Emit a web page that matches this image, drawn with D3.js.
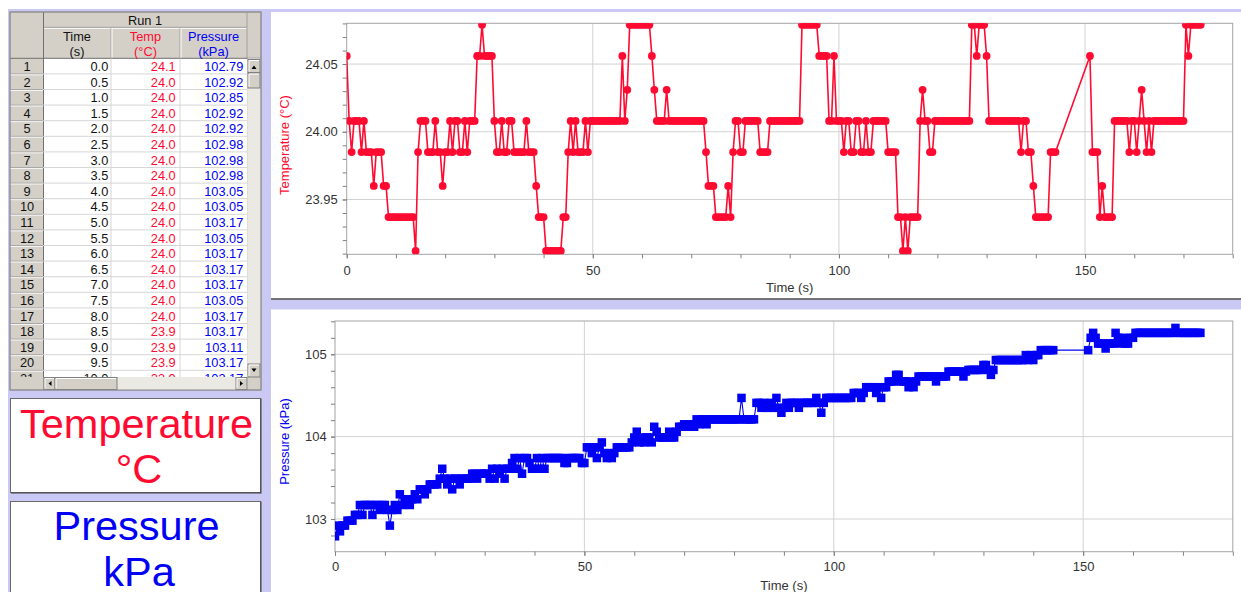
<!DOCTYPE html>
<html><head><meta charset="utf-8">
<script src="https://cdn.jsdelivr.net/npm/d3@7"></script>
<style>
html,body{margin:0;padding:0;background:#fff;overflow:hidden}
svg{display:block;font-family:"Liberation Sans",Arial,sans-serif}
</style></head><body>
<svg id="c" width="1241" height="592"></svg>
<script>
// ---------------- DATA ----------------
const time = [
0,0.5,1,1.5,2,2.5,3,3.5,4,4.5,5,5.5,6,6.5,7,7.5,8,8.5,9,9.5,
10,10.5,11,11.5,12,12.5,13,13.5,14,14.5,15,15.5,16,16.5,17,17.5,18,18.5,19,19.5,
20,20.5,21,21.5,22,22.5,23,23.5,24,24.5,25,25.5,26,26.5,27,27.5,28,28.5,29,29.5,
30,30.5,31,31.5,32,32.5,33,33.5,34,34.5,35,35.5,36,36.5,37,37.5,38,38.5,39,39.5,
40,40.5,41,41.5,42,42.5,43,43.5,44,44.5,45,45.5,46,46.5,47,47.5,48,48.5,49,49.5,
50,50.5,51,51.5,52,52.5,53,53.5,54,54.5,55,55.5,56,56.5,57,57.5,58,58.5,59,59.5,
60,60.5,61,61.5,62,62.5,63,63.5,64,64.5,65,65.5,66,66.5,67,67.5,68,68.5,69,69.5,
70,70.5,71,71.5,72,72.5,73,73.5,74,74.5,75,75.5,76,76.5,77,77.5,78,78.5,79,79.5,
80,80.5,81,81.5,82,82.5,83,83.5,84,84.5,85,85.5,86,86.5,87,87.5,88,88.5,89,89.5,
90,90.5,91,91.5,92,92.5,93,93.5,94,94.5,95,95.5,96,96.5,97,97.5,98,98.5,99,99.5,
100,100.5,101,101.5,102,102.5,103,103.5,104,104.5,105,105.5,106,106.5,107,107.5,108,108.5,109,109.5,
110,110.5,111,111.5,112,112.5,113,113.5,114,114.5,115,115.5,116,116.5,117,117.5,118,118.5,119,119.5,
120,120.5,121,121.5,122,122.5,123,123.5,124,124.5,125,125.5,126,126.5,127,127.5,128,128.5,129,129.5,
130,130.5,131,131.5,132,132.5,133,133.5,134,134.5,135,135.5,136,136.5,137,137.5,138,138.5,139,139.5,
140,140.5,141,141.5,142,142.5,143,143.5,144,
151,151.5,152,152.5,153,153.5,154,154.5,155,155.5,156,156.5,157,157.5,158,158.5,159,159.5,
160,160.5,161,161.5,162,162.5,163,163.5,164,164.5,165,165.5,166,166.5,167,167.5,168,168.5,169,169.5,
170,170.5,171,171.5,172,172.5,173,173.5
];
const temperature = [
24.056,24.008,23.985,24.008,24.008,24.008,23.985,24.008,23.985,23.985,23.985,23.960,23.985,23.985,23.985,23.960,23.960,23.937,23.937,23.937,
23.937,23.937,23.937,23.937,23.937,23.937,23.937,23.937,23.912,23.985,24.008,24.008,24.008,23.985,23.985,23.985,24.008,23.985,23.985,23.960,
23.985,23.985,24.008,23.985,24.008,24.008,23.985,23.985,24.008,23.985,24.008,24.008,24.008,24.056,24.056,24.079,24.056,24.056,24.056,24.056,
24.008,23.985,23.985,24.008,23.985,23.985,24.008,24.008,23.985,23.985,23.985,23.985,23.985,24.008,23.985,23.985,23.985,23.960,23.937,23.937,
23.937,23.912,23.912,23.912,23.912,23.912,23.912,23.912,23.937,23.937,23.985,24.008,23.985,24.008,23.985,23.985,23.985,24.008,23.985,24.008,
24.008,24.008,24.008,24.008,24.008,24.008,24.008,24.008,24.008,24.008,24.008,24.008,24.056,24.008,24.031,24.079,24.079,24.079,24.079,24.079,
24.079,24.079,24.079,24.079,24.056,24.031,24.008,24.008,24.008,24.008,24.031,24.008,24.008,24.008,24.008,24.008,24.008,24.008,24.008,24.008,
24.008,24.008,24.008,24.008,24.008,24.008,23.985,23.960,23.960,23.960,23.937,23.937,23.937,23.937,23.937,23.960,23.937,23.985,24.008,24.008,
23.985,23.985,24.008,24.008,24.008,24.008,24.008,24.008,23.985,23.985,23.985,23.985,24.008,24.008,24.008,24.008,24.008,24.008,24.008,24.008,
24.008,24.008,24.008,24.008,24.008,24.079,24.079,24.079,24.079,24.079,24.079,24.079,24.056,24.056,24.056,24.056,24.008,24.008,24.056,24.008,
24.008,24.008,23.985,24.008,24.008,23.985,23.985,24.008,24.008,23.985,23.985,24.008,23.985,23.985,24.008,24.008,24.008,24.008,24.008,24.008,
23.985,23.985,23.985,23.985,23.937,23.937,23.912,23.937,23.912,23.937,23.937,23.937,23.937,24.008,24.031,24.008,24.008,23.985,23.985,24.008,
24.008,24.008,24.008,24.008,24.008,24.008,24.008,24.008,24.008,24.008,24.008,24.008,24.008,24.008,24.079,24.079,24.056,24.079,24.079,24.079,
24.056,24.008,24.008,24.008,24.008,24.008,24.008,24.008,24.008,24.008,24.008,24.008,24.008,24.008,23.985,24.008,24.008,23.985,23.985,23.960,
23.937,23.937,23.937,23.937,23.937,23.937,23.985,23.985,23.985,
24.056,23.985,23.985,23.985,23.937,23.960,23.937,23.937,23.937,23.937,24.008,24.008,24.008,24.008,24.008,24.008,23.985,24.008,
24.008,23.985,24.008,24.031,24.008,23.985,24.008,23.985,24.008,24.008,24.008,24.008,24.008,24.008,24.008,24.008,24.008,24.008,24.008,24.008,
24.008,24.079,24.056,24.079,24.079,24.079,24.079,24.079
];
const pressure = [
102.79,102.92,102.85,102.92,102.92,102.98,102.98,102.98,103.05,103.05,103.17,103.05,103.17,103.17,103.17,103.05,103.17,103.17,103.11,103.17,
103.17,103.11,102.92,103.11,103.17,103.11,103.30,103.17,103.24,103.24,103.17,103.24,103.30,103.24,103.36,103.36,103.30,103.36,103.42,103.42,
103.42,103.42,103.49,103.61,103.49,103.42,103.49,103.36,103.49,103.49,103.42,103.49,103.49,103.49,103.49,103.55,103.55,103.49,103.55,103.55,
103.55,103.55,103.49,103.61,103.49,103.61,103.55,103.61,103.49,103.61,103.61,103.68,103.74,103.61,103.74,103.55,103.74,103.74,103.68,103.61,
103.61,103.74,103.61,103.74,103.61,103.74,103.74,103.74,103.74,103.74,103.74,103.74,103.68,103.68,103.74,103.74,103.74,103.74,103.74,103.68,
103.68,103.87,103.87,103.80,103.87,103.74,103.87,103.93,103.80,103.74,103.80,103.74,103.80,103.87,103.87,103.87,103.87,103.87,103.87,103.93,
103.99,104.06,103.93,103.99,103.93,103.99,103.99,103.93,104.12,104.06,103.99,103.99,103.99,103.99,104.06,103.99,103.99,104.06,104.12,104.12,
104.15,104.12,104.15,104.15,104.12,104.21,104.15,104.21,104.21,104.15,104.21,104.21,104.21,104.21,104.21,104.21,104.21,104.21,104.21,104.21,
104.21,104.21,104.21,104.47,104.21,104.21,104.21,104.21,104.21,104.41,104.41,104.35,104.41,104.35,104.35,104.41,104.35,104.47,104.35,104.29,
104.35,104.41,104.35,104.41,104.41,104.41,104.35,104.41,104.41,104.41,104.41,104.41,104.41,104.47,104.41,104.29,104.41,104.47,104.47,104.47,
104.47,104.47,104.47,104.47,104.47,104.47,104.47,104.47,104.53,104.53,104.53,104.47,104.53,104.60,104.60,104.60,104.60,104.53,104.60,104.47,
104.60,104.60,104.67,104.67,104.67,104.75,104.75,104.67,104.67,104.67,104.60,104.67,104.60,104.67,104.73,104.73,104.73,104.73,104.73,104.73,
104.73,104.67,104.73,104.73,104.73,104.73,104.79,104.79,104.79,104.79,104.79,104.79,104.73,104.79,104.81,104.81,104.81,104.81,104.81,104.81,
104.87,104.87,104.81,104.75,104.81,104.93,104.93,104.93,104.93,104.93,104.93,104.93,104.93,104.93,104.93,104.93,104.93,104.99,104.93,104.99,
104.93,104.99,104.99,105.05,105.05,105.05,105.05,105.05,105.05,
105.05,105.20,105.26,105.20,105.13,105.13,105.13,105.07,105.13,105.13,105.13,105.26,105.20,105.13,105.20,105.13,105.13,105.20,
105.20,105.26,105.26,105.26,105.26,105.26,105.26,105.26,105.26,105.26,105.26,105.26,105.26,105.26,105.26,105.26,105.26,105.32,105.26,105.26,
105.26,105.26,105.26,105.26,105.26,105.26,105.26,105.26
];
const timeTicks = [0, 50, 100, 150];
const tempTicks = [23.95, 24.00, 24.05];
const pressTicks = [103, 104, 105];
const tableTitle = "Run 1";
const tableHeads = [["Time", "(s)"], ["Temp", "(°C)"], ["Pressure", "(kPa)"]];
const bigLabels = [["Temperature", "°C"], ["Pressure", "kPa"]];

// ---------------- DRAWING ----------------
const RED = "#ff0a30", BLUE = "#0000f4", LAV = "#c9c9f4", FACE = "#d4d0c8";
const FONT = "'Liberation Sans', Arial, sans-serif";
const svg = d3.select("#c");
svg.append("rect").attr("width", 1241).attr("height", 592).attr("fill", "#fff");
svg.append("rect").attr("x", 8).attr("y", 9).attr("width", 1233).attr("height", 583).attr("fill", LAV);

// ---- chart panels ----
function drawChart(o) {
  const g = svg.append("g");
  g.append("rect").attr("x", 271).attr("y", o.panelTop).attr("width", 970).attr("height", o.panelH).attr("fill", "#fff");
  if (o.panelBottomLine) g.append("line").attr("x1", 271).attr("x2", 1241).attr("y1", o.panelTop + o.panelH - 0.5).attr("y2", o.panelTop + o.panelH - 0.5).attr("stroke", "#4a4a4a").attr("stroke-width", 1.5);
  const x = d3.scaleLinear().domain([0, 180]).range([o.left, o.right]);
  const y = d3.scaleLinear().domain(o.yDomain).range([o.bottom, o.top]);
  // grid
  g.append("g").selectAll("line").data(timeTicks.slice(1)).join("line")
    .attr("x1", d => x(d)).attr("x2", d => x(d)).attr("y1", o.top).attr("y2", o.bottom)
    .attr("stroke", "#d2d2d2");
  g.append("g").selectAll("line").data(o.yTicks).join("line")
    .attr("x1", o.left).attr("x2", o.right).attr("y1", d => y(d)).attr("y2", d => y(d))
    .attr("stroke", "#d2d2d2");
  // frame
  g.append("rect").attr("x", o.left).attr("y", o.top).attr("width", o.right - o.left).attr("height", o.bottom - o.top)
    .attr("fill", "none").attr("stroke", "#a4a4a4");
  // minor ticks
  const minorX = d3.range(0, 19).map(i => i * 10);
  const mx = g.append("g").attr("transform", `translate(0,${o.bottom})`)
    .call(d3.axisBottom(x).tickValues(minorX).tickSize(4).tickFormat(""));
  mx.select(".domain").remove();
  mx.selectAll("line").attr("stroke", "#808080");
  const my = g.append("g").attr("transform", `translate(${o.left},0)`)
    .call(d3.axisLeft(y).tickValues(o.yMinor).tickSize(4).tickFormat(""));
  my.select(".domain").remove();
  my.selectAll("line").attr("stroke", "#808080");
  // major axes with labels
  const ax = g.append("g").attr("transform", `translate(0,${o.bottom})`)
    .call(d3.axisBottom(x).tickValues(timeTicks).tickSize(4).tickPadding(o.xPad).tickFormat(d3.format("d")));
  ax.select(".domain").remove();
  ax.selectAll("line").attr("stroke", "#808080");
  ax.attr("font-family", FONT).attr("font-size", 13);
  ax.selectAll("text").attr("fill", "#333");
  const ay = g.append("g").attr("transform", `translate(${o.left},0)`)
    .call(d3.axisLeft(y).tickValues(o.yTicks).tickSize(4).tickPadding(o.yPad).tickFormat(o.yFmt));
  ay.select(".domain").remove();
  ay.selectAll("line").attr("stroke", "#808080");
  ay.attr("font-family", FONT).attr("font-size", 13);
  ay.selectAll("text").attr("fill", "#333");
  // titles
  g.append("text").attr("x", (o.left + o.right) / 2).attr("y", o.xTitleY).attr("text-anchor", "middle")
    .attr("font-size", 13).attr("fill", "#333").text("Time (s)");
  g.append("text").attr("transform", `translate(288.5,${o.yTitleC}) rotate(-90)`).attr("text-anchor", "middle")
    .attr("font-size", 13).attr("fill", o.color).text(o.yTitle);
  // data
  const cid = "clip" + o.id;
  svg.append("clipPath").attr("id", cid).append("rect")
    .attr("x", o.left).attr("y", o.top).attr("width", o.right - o.left).attr("height", o.bottom - o.top);
  const pts = time.map((t, i) => ({ t, v: o.values[i] }));
  const dg = g.append("g").attr("clip-path", `url(#${cid})`);
  dg.append("path").datum(pts).attr("fill", "none").attr("stroke", o.color).attr("stroke-width", o.lw)
    .attr("stroke-linejoin", "round")
    .attr("d", d3.line().x(d => x(d.t)).y(d => y(d.v)));
  if (o.marker === "circle") {
    dg.selectAll("circle").data(pts).join("circle")
      .attr("cx", d => x(d.t)).attr("cy", d => y(d.v)).attr("r", 3.9).attr("fill", o.color);
  } else {
    dg.selectAll("rect").data(pts).join("rect")
      .attr("x", d => x(d.t) - 4.25).attr("y", d => y(d.v) - 4.25).attr("width", 8.5).attr("height", 8.5).attr("fill", o.color);
  }
}

drawChart({
  id: "T", panelTop: 12, panelH: 287.5, panelBottomLine: true,
  left: 346.7, right: 1232.7, top: 23.3, bottom: 254.3,
  yDomain: [23.9095, 24.0801], yTicks: tempTicks, yMinor: d3.range(2391, 2409).map(v => v / 100),
  yFmt: d3.format(".2f"), xPad: 7, yPad: 5, xTitleY: 292, yTitleC: 145,
  yTitle: "Temperature (°C)", color: RED, values: temperature, marker: "circle", lw: 1.6
});
drawChart({
  id: "P", panelTop: 309.5, panelH: 283, panelBottomLine: false,
  left: 335, right: 1232.8, top: 321, bottom: 551.7,
  yDomain: [102.603, 105.404], yTicks: pressTicks, yMinor: d3.range(514, 528).map(v => v / 5),
  yFmt: d3.format("d"), xPad: 6.5, yPad: 4.3, xTitleY: 589.5, yTitleC: 441.5,
  yTitle: "Pressure (kPa)", color: BLUE, values: pressure, marker: "square", lw: 1.1
});

// ---- data table ----
const tb = svg.append("g").attr("font-family", FONT);
const hdrMid = 28.3, hdrBot = 58.3, rowH = 15.6, dataBot = 377, tblBot = 390;
tb.append("rect").attr("x", 10).attr("y", 12).attr("width", 251).attr("height", 378).attr("fill", FACE).attr("stroke", "#9a9a9a");
tb.append("rect").attr("x", 43).attr("y", hdrBot).attr("width", 204).attr("height", dataBot - hdrBot).attr("fill", "#fff");
// header separators
tb.append("line").attr("x1", 43).attr("x2", 247).attr("y1", hdrMid).attr("y2", hdrMid).attr("stroke", "#fff");
tb.append("line").attr("x1", 43).attr("x2", 247).attr("y1", hdrMid - 1).attr("y2", hdrMid - 1).attr("stroke", "#a0a0a0");
[111, 180].forEach(cx => {
  tb.append("line").attr("x1", cx).attr("x2", cx).attr("y1", hdrMid).attr("y2", hdrBot).attr("stroke", "#a0a0a0");
  tb.append("line").attr("x1", cx + 1).attr("x2", cx + 1).attr("y1", hdrMid).attr("y2", hdrBot).attr("stroke", "#fff");
});
tb.append("line").attr("x1", 43.5).attr("x2", 43.5).attr("y1", 12).attr("y2", tblBot).attr("stroke", "#707070");
tb.append("line").attr("x1", 247).attr("x2", 247).attr("y1", 12).attr("y2", hdrBot).attr("stroke", "#a0a0a0");
tb.append("line").attr("x1", 10).attr("x2", 261).attr("y1", hdrBot).attr("y2", hdrBot).attr("stroke", "#707070");
tb.append("text").attr("x", 145).attr("y", 25).attr("text-anchor", "middle").attr("font-size", 12.8).attr("fill", "#111").text(tableTitle);
const headColors = ["#111", RED, BLUE];
const headCx = [77, 145.5, 213.5];
tableHeads.forEach((h, i) => {
  tb.append("text").attr("x", headCx[i]).attr("y", 40.5).attr("text-anchor", "middle").attr("font-size", 12.8).attr("fill", headColors[i]).text(h[0]);
  tb.append("text").attr("x", headCx[i]).attr("y", 55.5).attr("text-anchor", "middle").attr("font-size", 12.8).attr("fill", headColors[i]).text(h[1]);
});
// rows
svg.append("clipPath").attr("id", "tclip").append("rect").attr("x", 10).attr("y", hdrBot).attr("width", 237).attr("height", dataBot - hdrBot);
const rows = tb.append("g").attr("clip-path", "url(#tclip)");
const nRows = 21;
const rowIdx = d3.range(nRows);
rows.selectAll("line.h").data(rowIdx).join("line").attr("class", "h")
  .attr("x1", 43).attr("x2", 247).attr("y1", i => hdrBot + (i + 1) * rowH).attr("y2", i => hdrBot + (i + 1) * rowH).attr("stroke", "#d6d6d6");
rows.selectAll("line.r").data(rowIdx).join("line").attr("class", "r")
  .attr("x1", 10).attr("x2", 43).attr("y1", i => hdrBot + (i + 1) * rowH).attr("y2", i => hdrBot + (i + 1) * rowH).attr("stroke", "#a8a8a8");
rows.selectAll("line.rw").data(rowIdx).join("line").attr("class", "rw")
  .attr("x1", 10).attr("x2", 43).attr("y1", i => hdrBot + (i + 1) * rowH + 1).attr("y2", i => hdrBot + (i + 1) * rowH + 1).attr("stroke", "#f4f4f4");
[111, 180].forEach(cx => rows.append("line").attr("x1", cx).attr("x2", cx).attr("y1", hdrBot).attr("y2", dataBot).attr("stroke", "#d6d6d6"));
const colTexts = [
  { x: 27, anchor: "middle", color: "#111", f: i => String(i + 1) },
  { x: 108.3, anchor: "end", color: "#111", f: i => time[i].toFixed(1) },
  { x: 175.7, anchor: "end", color: RED, f: i => temperature[i].toFixed(1) },
  { x: 243.3, anchor: "end", color: BLUE, f: i => pressure[i].toFixed(2) }
];
colTexts.forEach(c => {
  rows.append("g").selectAll("text").data(rowIdx).join("text")
    .attr("x", c.x).attr("y", i => 71 + i * rowH).attr("text-anchor", c.anchor)
    .attr("font-size", 12.8).attr("fill", c.color).text(c.f);
});
// scrollbars
function btn(x, y, w, h) {
  tb.append("rect").attr("x", x).attr("y", y).attr("width", w).attr("height", h).attr("fill", FACE).attr("stroke", "#808080");
  tb.append("line").attr("x1", x + 1).attr("x2", x + w - 1).attr("y1", y + 1).attr("y2", y + 1).attr("stroke", "#fff");
  tb.append("line").attr("x1", x + 1).attr("x2", x + 1).attr("y1", y + 1).attr("y2", y + h - 1).attr("stroke", "#fff");
}
tb.append("rect").attr("x", 247.5).attr("y", hdrBot).attr("width", 13).attr("height", dataBot - hdrBot).attr("fill", "#ebe9e4");
btn(248, 59.5, 12, 13);
btn(248, 73, 12, 15);
btn(248, 364, 12, 13);
tb.append("path").attr("d", "M251.5,69 L254,65.5 L256.5,69 Z").attr("fill", "#000");
tb.append("path").attr("d", "M251.5,368.5 L254,372 L256.5,368.5 Z").attr("fill", "#000");
tb.append("rect").attr("x", 43.5).attr("y", dataBot).attr("width", 204).attr("height", 13).attr("fill", "#ebe9e4");
btn(44, 377.5, 11, 12);
btn(55, 377.5, 62, 12);
btn(236, 377.5, 11, 12);
tb.append("path").attr("d", "M51.5,381 L48.5,383.5 L51.5,386 Z").attr("fill", "#000");
tb.append("path").attr("d", "M240,381 L243,383.5 L240,386 Z").attr("fill", "#000");
tb.append("rect").attr("x", 10).attr("y", 12).attr("width", 251).attr("height", 378).attr("fill", "none").attr("stroke", "#8a8a8a");

// ---- big meter labels ----
const boxes = [
  { y: 398.5, h: 94, color: RED, b1: 438, b2: 482.5 },
  { y: 501.5, h: 100, color: BLUE, b1: 539.5, b2: 585.5 }
];
boxes.forEach((b, i) => {
  svg.append("rect").attr("x", 10.5).attr("y", b.y).attr("width", 250).attr("height", b.h)
    .attr("fill", "#fff").attr("stroke", "#6a6a6a");
  svg.append("line").attr("x1", 11).attr("x2", 261).attr("y1", b.y + b.h + 0.5).attr("y2", b.y + b.h + 0.5).attr("stroke", "#404040");
  svg.append("line").attr("x1", 261).attr("x2", 261).attr("y1", b.y).attr("y2", b.y + b.h + 1).attr("stroke", "#404040");
  svg.append("text").attr("x", 136.5).attr("y", b.b1).attr("text-anchor", "middle").attr("font-size", 41.5)
    .attr("fill", b.color).text(bigLabels[i][0]);
  svg.append("text").attr("x", 139).attr("y", b.b2).attr("text-anchor", "middle").attr("font-size", 41.5)
    .attr("fill", b.color).text(bigLabels[i][1]);
});
</script>
</body></html>
